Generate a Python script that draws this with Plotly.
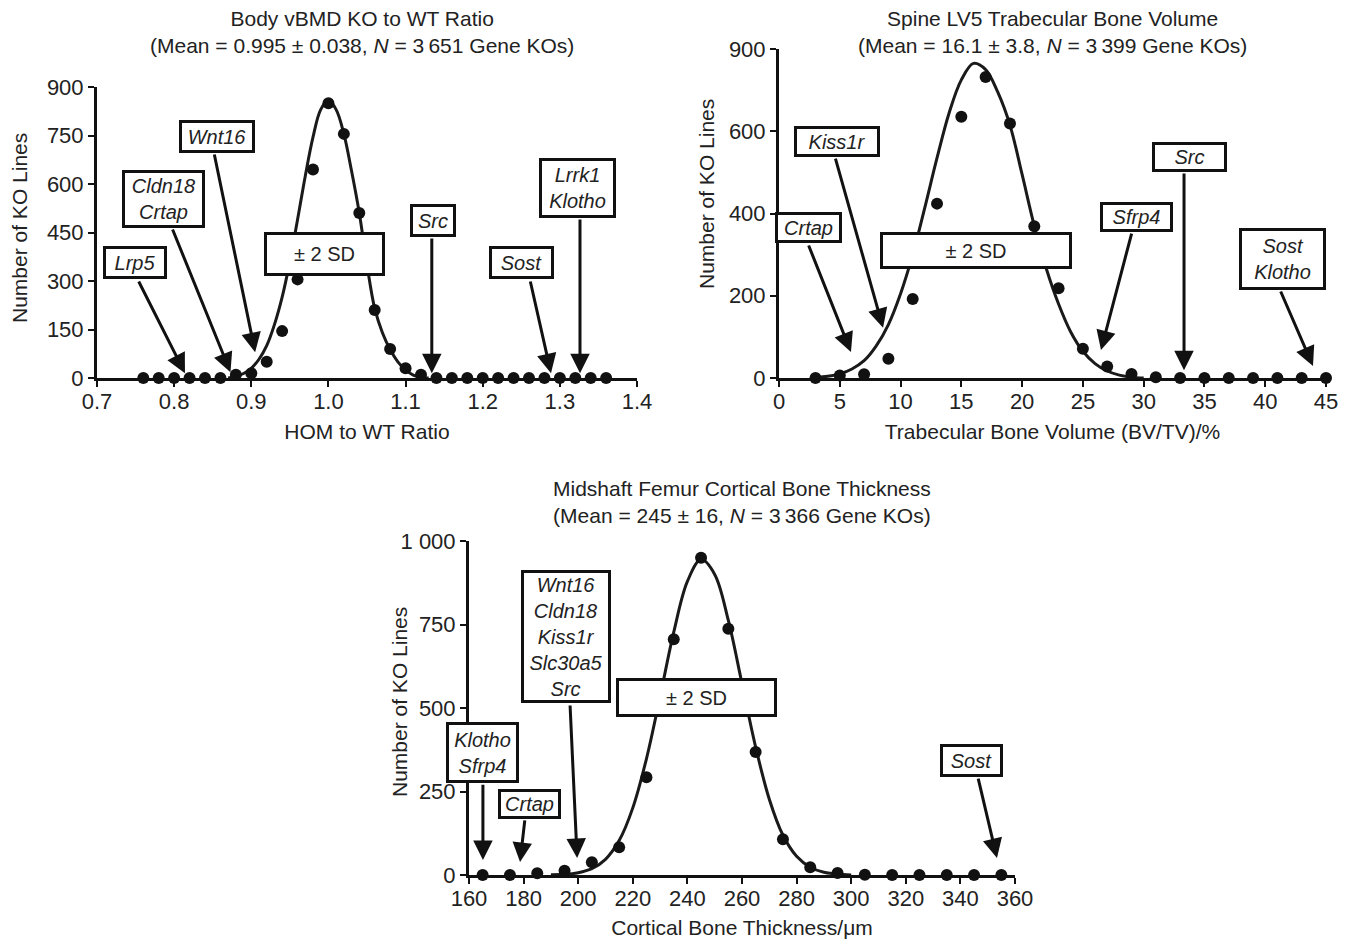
import plotly.graph_objects as go

FONT = "Liberation Sans, Arial, sans-serif"

# ---------------- data ----------------
# Panel A: Body vBMD KO to WT ratio
bmd_x = [0.76, 0.78, 0.80, 0.82, 0.84, 0.86, 0.88, 0.90, 0.92, 0.94, 0.96, 0.98, 1.00,
         1.02, 1.04, 1.06, 1.08, 1.10, 1.12, 1.14, 1.16, 1.18, 1.20, 1.22, 1.24, 1.26,
         1.28, 1.30, 1.32, 1.34, 1.36]
bmd_y = [0, 0, 0, 0, 0, 0, 10, 15, 50, 145, 305, 645, 850,
         755, 510, 210, 90, 30, 10, 0, 0, 0, 0, 0, 0, 0,
         0, 0, 0, 0, 0]
bmd_fit_x = [0.87, 0.88, 0.89, 0.90, 0.91, 0.92, 0.93, 0.94, 0.95, 0.96, 0.97, 0.98, 0.99,
             1.00, 1.01, 1.02, 1.03, 1.04, 1.05, 1.06, 1.07, 1.08, 1.09, 1.10, 1.11, 1.12, 1.13]
bmd_fit_y = [0, 5, 14, 30, 58, 100, 165, 250, 360, 490, 625, 745, 830,
             858, 830, 755, 640, 510, 350, 215, 140, 88, 50, 25, 9, 2, 0]

# Panel B: Spine LV5 trabecular bone volume
bv_x = [3, 5, 7, 9, 11, 13, 15, 17, 19, 21, 23, 25, 27, 29, 31, 33, 35, 37, 39, 41, 43, 45]
bv_y = [0, 6, 9, 47, 192, 424, 635, 732, 619, 369, 218, 71, 28, 10, 2, 0, 0, 0, 0, 0, 0, 0]
bv_fit_x = [3, 4, 5, 6, 7, 8, 9, 10, 11, 12, 13, 14, 15, 16, 17, 18, 19, 20, 21, 22, 23,
            24, 25, 26, 27, 28, 29, 30]
bv_fit_y = [1, 4, 10, 22, 42, 78, 130, 205, 300, 415, 535, 645, 725, 765, 750, 695, 615,
            495, 370, 265, 180, 112, 65, 35, 17, 7, 2, 0]
bv_tickvals = [0, 200, 400, 600, 800]
bv_ticktext = ["0", "200", "400", "600", "900"]

# Panel C: Midshaft femur cortical bone thickness
ct_x = [165, 175, 185, 195, 205, 215, 225, 235, 245, 255, 265, 275, 285, 295, 305,
        315, 325, 335, 345, 355]
ct_y = [0, 0, 5, 13, 38, 83, 293, 706, 950, 737, 368, 107, 23, 6, 1, 0, 0, 0, 0, 0]
ct_fit_x = [190, 195, 200, 205, 210, 215, 220, 225, 230, 235, 240, 245, 250, 255, 260,
            265, 270, 275, 280, 285, 290, 295, 300]
ct_fit_y = [1, 2, 7, 19, 47, 103, 201, 348, 534, 727, 879, 945, 900, 762, 573,
            383, 227, 119, 56, 23, 8, 3, 0]
ct_tickvals = [0, 250, 500, 750, 1000]
ct_ticktext = ["0", "250", "500", "750", "1 000"]

titles = [
    ("Body vBMD KO to WT Ratio",
     "(Mean = 0.995 ± 0.038, <i>N</i> = 3\u2009651 Gene KOs)"),
    ("Spine LV5 Trabecular Bone Volume",
     "(Mean = 16.1 ± 3.8, <i>N</i> = 3\u2009399 Gene KOs)"),
    ("Midshaft Femur Cortical Bone Thickness",
     "(Mean = 245 ± 16, <i>N</i> = 3\u2009366 Gene KOs)"),
]
xtitles = ["HOM to WT Ratio", "Trabecular Bone Volume (BV/TV)/%",
           "Cortical Bone Thickness/\u03bcm"]
ytitle = "Number of KO Lines"

# label boxes: (axis, x, y, text, width px, height px)
boxes = [
    (1, 0.7493, 356, "<i>Lrp5</i>", 58, 27),
    (1, 0.7856, 554, "<i>Cldn18</i><br><i>Crtap</i>", 77, 52),
    (1, 0.8556, 748, "<i>Wnt16</i>", 70, 27),
    (1, 0.9943, 383, "± 2 SD", 115, 38),
    (1, 1.1356, 486, "<i>Src</i>", 40, 27),
    (1, 1.2509, 356, "<i>Sost</i>", 59, 27),
    (1, 1.3235, 588, "<i>Lrrk1</i><br><i>Klotho</i>", 71, 54),
    (2, 4.77, 576, "<i>Kiss1r</i>", 80, 25),
    (2, 2.39, 365, "<i>Crtap</i>", 61, 25),
    (2, 16.21, 309, "± 2 SD", 186, 31),
    (2, 29.37, 391, "<i>Sfrp4</i>", 67, 24),
    (2, 33.81, 537, "<i>Src</i>", 69, 24),
    (2, 41.46, 289, "<i>Sost</i><br><i>Klotho</i>", 81, 56),
    (3, 195.5, 713, "<i>Wnt16</i><br><i>Cldn18</i><br><i>Kiss1r</i><br><i>Slc30a5</i><br><i>Src</i>", 84, 127),
    (3, 243.5, 530, "± 2 SD", 155, 33),
    (3, 165.1, 368, "<i>Klotho</i><br><i>Sfrp4</i>", 67, 55),
    (3, 182.3, 213, "<i>Crtap</i>", 57, 24),
    (3, 343.9, 344, "<i>Sost</i>", 57, 27),
]
# arrows: (axis, tail x, tail y, tip x, tip y)
arrows = [
    (1, 0.7531, 303, 0.814, 15),
    (1, 0.7972, 464, 0.873, 18),
    (1, 0.8517, 696, 0.905, 80),
    (1, 1.134, 436, 1.134, 15),
    (1, 1.2613, 303, 1.2885, 15),
    (1, 1.3261, 495, 1.3261, 15),
    (2, 4.61, 537, 8.56, 122),
    (2, 2.39, 326, 5.92, 63),
    (2, 29.04, 355, 26.49, 68),
    (2, 33.32, 501, 33.32, 19),
    (2, 41.22, 214, 43.93, 29),
    (3, 197.0, 512, 199.6, 51),
    (3, 165.1, 275, 165.1, 45),
    (3, 180.5, 168, 178.7, 39),
    (3, 346.4, 293, 353.4, 51),
]

# ---------------- figure ----------------
fig = go.Figure()

series = [(bmd_x, bmd_y, bmd_fit_x, bmd_fit_y),
          (bv_x, bv_y, bv_fit_x, bv_fit_y),
          (ct_x, ct_y, ct_fit_x, ct_fit_y)]
for i, (px, py, fx, fy) in enumerate(series, start=1):
    xa = "x" if i == 1 else f"x{i}"
    ya = "y" if i == 1 else f"y{i}"
    fig.add_trace(go.Scatter(x=fx, y=fy, mode="lines", line=dict(color="#1a1a1a", width=3, shape="spline"),
                             xaxis=xa, yaxis=ya, showlegend=False, cliponaxis=False, hoverinfo="skip"))
    fig.add_trace(go.Scatter(x=px, y=py, mode="markers", marker=dict(color="#111111", size=12),
                             xaxis=xa, yaxis=ya, showlegend=False, cliponaxis=False))

W, H = 1352, 939
def dom_x(a, b):
    return [a / W, b / W]
def dom_y(top, bottom):
    return [1 - bottom / H, 1 - top / H]

TICKSIZE = 22
axis_common = dict(showline=True, linewidth=3, linecolor="#111111", ticks="outside",
                   ticklen=6, tickwidth=2, tickcolor="#111111", showgrid=False, zeroline=False,
                   automargin=False,
                   tickfont=dict(family=FONT, size=TICKSIZE, color="#222222"))
xt = dict(font=dict(size=21), standoff=11)

fig.update_layout(
    width=W, height=H, margin=dict(l=0, r=0, t=0, b=0, autoexpand=False),
    paper_bgcolor="white", plot_bgcolor="white",
    font=dict(family=FONT, size=21, color="#222222"),
    xaxis=dict(domain=dom_x(97, 637), anchor="y", range=[0.7, 1.4], dtick=0.1, tickformat=".1f",
               ticklabelstandoff=-4, title=dict(text=xtitles[0], **xt), **axis_common),
    yaxis=dict(domain=dom_y(87, 378), anchor="x", range=[0, 900], dtick=150, **axis_common),
    xaxis2=dict(domain=dom_x(779, 1326), anchor="y2", range=[0, 45], dtick=5,
                ticklabelstandoff=-4, title=dict(text=xtitles[1], **xt), **axis_common),
    yaxis2=dict(domain=dom_y(49, 378), anchor="x2", range=[0, 800], tickvals=bv_tickvals,
                ticktext=bv_ticktext, **axis_common),
    xaxis3=dict(domain=dom_x(469, 1015), anchor="y3", range=[160, 360], dtick=20,
                ticklabelstandoff=-4, title=dict(text=xtitles[2], font=dict(size=21), standoff=13),
                **axis_common),
    yaxis3=dict(domain=dom_y(541, 875), anchor="x3", range=[0, 1000], tickvals=ct_tickvals,
                ticktext=ct_ticktext, **axis_common),
)

anns = []
title_pos = [(362, 20), (1052, 20), (742, 490)]
for (t1, t2), (cx, cy) in zip(titles, title_pos):
    anns.append(dict(xref="paper", yref="paper", x=cx / W, y=1 - (cy + 12) / H, text=t1 + "<br>" + t2,
                     showarrow=False, xanchor="center", yanchor="middle", align="center",
                     font=dict(family=FONT, size=21, color="#222222")))

# y-axis titles (rotated), placed in pixel positions of the page
ytitle_pos = [(19, 228), (707, 194), (399, 702)]
for cx, cy in ytitle_pos:
    anns.append(dict(xref="paper", yref="paper", x=cx / W, y=1 - cy / H, text=ytitle,
                     textangle=-90, showarrow=False, xanchor="center", yanchor="middle",
                     font=dict(family=FONT, size=21, color="#222222")))

def refs(ax):
    return ("x", "y") if ax == 1 else (f"x{ax}", f"y{ax}")

for ax, tx, ty, hx, hy in arrows:
    xr, yr = refs(ax)
    anns.append(dict(xref=xr, yref=yr, x=hx, y=hy, ax=tx, ay=ty, axref=xr, ayref=yr, text="",
                     showarrow=True, arrowhead=2, arrowsize=1.3, arrowwidth=3, arrowcolor="#111111",
                     standoff=0, startstandoff=0))

for ax, x, y, text, w, h in boxes:
    xr, yr = refs(ax)
    anns.append(dict(xref=xr, yref=yr, x=x, y=y, text=text, showarrow=False, width=w, height=h,
                     xanchor="center", yanchor="middle", align="center", valign="middle",
                     bgcolor="white", bordercolor="#111111", borderwidth=3, borderpad=0,
                     font=dict(family=FONT, size=20, color="#222222")))

fig.update_layout(annotations=anns)
fig.write_html("out.html", config={"displayModeBar": False},
               post_script="document.body.style.margin='0px';")
